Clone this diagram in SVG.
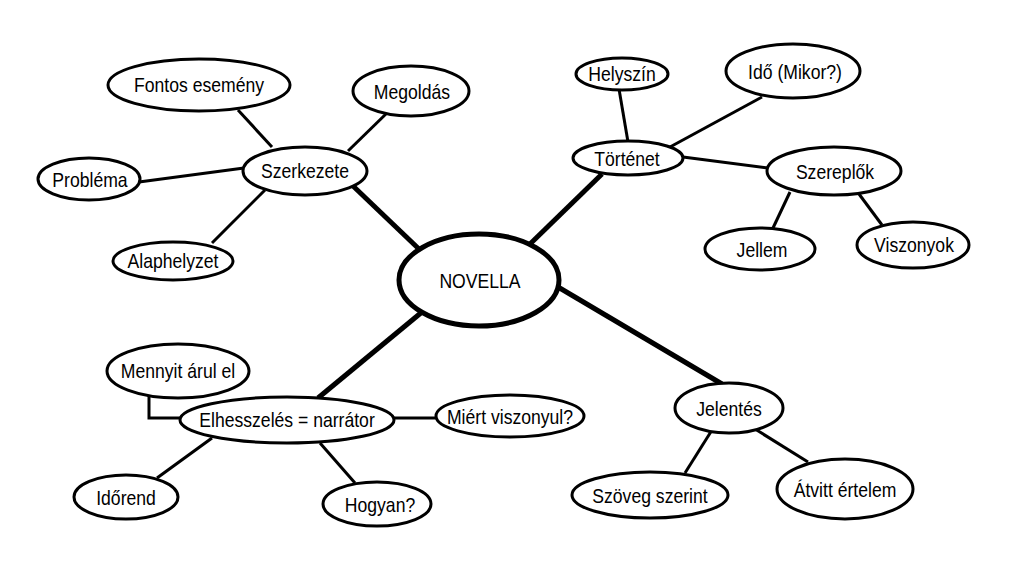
<svg xmlns="http://www.w3.org/2000/svg" width="1022" height="561" viewBox="0 0 1022 561">
<style>
.n ellipse{fill:#fff;stroke:#000;stroke-width:3}
.n text{font-family:"Liberation Sans",Arial,sans-serif;font-size:20px;fill:#000;text-anchor:middle}
.c line,.c path{stroke:#000;stroke-width:3;fill:none}
.c .t{stroke-width:5}
</style>
<rect width="1022" height="561" fill="#fff"/>
<g class="c" id="connectors">
<line class="t" x1="352" y1="185" x2="420" y2="250"/>
<line x1="238" y1="110" x2="272" y2="147"/>
<line x1="389" y1="111" x2="348" y2="151"/>
<line x1="139" y1="182" x2="244" y2="168"/>
<line x1="212" y1="243" x2="265" y2="190"/>
<line class="t" x1="602" y1="174" x2="530" y2="244"/>
<line x1="619" y1="89" x2="628" y2="142"/>
<line x1="762" y1="97" x2="670" y2="147"/>
<line x1="683" y1="157" x2="768" y2="168"/>
<line x1="790" y1="192" x2="773" y2="228"/>
<line x1="859" y1="194" x2="882" y2="225"/>
<line class="t" x1="422" y1="312" x2="318" y2="398"/>
<path d="M149 396 V418 H181"/>
<line x1="212" y1="438" x2="157" y2="478"/>
<line x1="320" y1="443" x2="355" y2="483"/>
<line x1="394" y1="418" x2="437" y2="418"/>
<line class="t" x1="558" y1="287" x2="722" y2="384"/>
<line x1="712" y1="430" x2="685" y2="473"/>
<line x1="755" y1="429" x2="808" y2="462"/>
</g>
<g class="n" id="novella"><ellipse cx="479" cy="280" rx="80" ry="46" style="stroke-width:5"/><text transform="translate(480,288) scale(0.88,1)">NOVELLA</text></g>
<g class="n" id="szerkezete"><ellipse cx="305" cy="171" rx="62" ry="24"/><text transform="translate(305,178) scale(0.88,1)">Szerkezete</text></g>
<g class="n" id="fontos"><ellipse cx="199" cy="85" rx="91" ry="26"/><text transform="translate(199,92) scale(0.88,1)">Fontos esemény</text></g>
<g class="n" id="megoldas"><ellipse cx="411" cy="91" rx="58" ry="25"/><text transform="translate(412,99) scale(0.88,1)">Megoldás</text></g>
<g class="n" id="problema"><ellipse cx="89" cy="179" rx="51" ry="21"/><text transform="translate(90,187) scale(0.88,1)">Probléma</text></g>
<g class="n" id="alaphelyzet"><ellipse cx="173" cy="261" rx="60" ry="19"/><text transform="translate(173,268) scale(0.88,1)">Alaphelyzet</text></g>
<g class="n" id="tortenet"><ellipse cx="628" cy="158" rx="55" ry="17"/><text transform="translate(627,166) scale(0.88,1)">Történet</text></g>
<g class="n" id="helyszin"><ellipse cx="622" cy="74" rx="46" ry="16"/><text transform="translate(622,81) scale(0.88,1)">Helyszín</text></g>
<g class="n" id="ido"><ellipse cx="793" cy="71" rx="67" ry="27"/><text transform="translate(795,79) scale(0.88,1)">Idő (Mikor?)</text></g>
<g class="n" id="szereplok"><ellipse cx="834" cy="171" rx="67" ry="24"/><text transform="translate(835,179) scale(0.88,1)">Szereplők</text></g>
<g class="n" id="jellem"><ellipse cx="760" cy="249" rx="55" ry="21"/><text transform="translate(762,257) scale(0.88,1)">Jellem</text></g>
<g class="n" id="viszonyok"><ellipse cx="913" cy="245" rx="56" ry="23"/><text transform="translate(914,252) scale(0.88,1)">Viszonyok</text></g>
<g class="n" id="elhesszeles"><ellipse cx="287" cy="420" rx="107" ry="23"/><text transform="translate(287,427) scale(0.88,1)">Elhesszelés = narrátor</text></g>
<g class="n" id="mennyit"><ellipse cx="178" cy="371" rx="71" ry="27"/><text transform="translate(178,378) scale(0.88,1)">Mennyit árul el</text></g>
<g class="n" id="miert"><ellipse cx="510" cy="416" rx="74" ry="21"/><text transform="translate(510,424) scale(0.88,1)">Miért viszonyul?</text></g>
<g class="n" id="idorend"><ellipse cx="126" cy="497" rx="52" ry="22"/><text transform="translate(126,505) scale(0.88,1)">Időrend</text></g>
<g class="n" id="hogyan"><ellipse cx="377" cy="504" rx="54" ry="22"/><text transform="translate(380,512) scale(0.88,1)">Hogyan?</text></g>
<g class="n" id="jelentes"><ellipse cx="729" cy="408" rx="54" ry="25"/><text transform="translate(729,416) scale(0.88,1)">Jelentés</text></g>
<g class="n" id="szoveg"><ellipse cx="650" cy="495" rx="78" ry="23"/><text transform="translate(650,503) scale(0.88,1)">Szöveg szerint</text></g>
<g class="n" id="atvitt"><ellipse cx="845" cy="489" rx="68" ry="30"/><text transform="translate(845,497) scale(0.88,1)">Átvitt értelem</text></g>
</svg>
